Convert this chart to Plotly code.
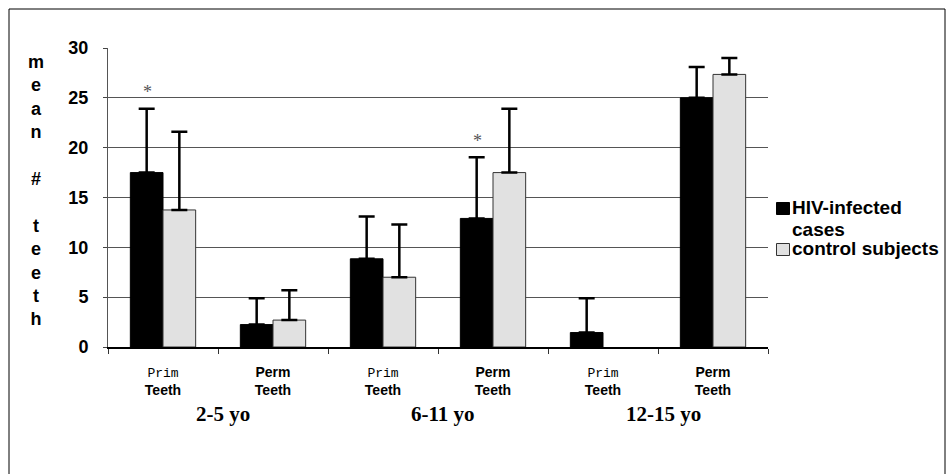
import plotly.graph_objects as go

# ---- data ----
categories = ["2-5 Prim", "2-5 Perm", "6-11 Prim", "6-11 Perm", "12-15 Prim", "12-15 Perm"]
tooth_type = ["Prim", "Perm", "Prim", "Perm", "Prim", "Perm"]
age_groups = ["2-5 yo", "6-11 yo", "12-15 yo"]
series_names = ["HIV-infected cases", "control subjects"]
hiv_mean = [17.5, 2.25, 8.85, 12.9, 1.45, 25.0]
hiv_sd = [6.4, 2.65, 4.25, 6.15, 3.45, 3.1]
ctrl_mean = [13.75, 2.7, 7.0, 17.5, None, 27.35]
ctrl_sd = [7.85, 3.0, 5.3, 6.4, None, 1.65]
significant = [True, False, False, True, False, False]
y_ticks = [0, 5, 10, 15, 20, 25, 30]

# ---- layout geometry (pixels) ----
W, H = 952, 474
L, R, T, B = 108, 184, 48, 127
PW, PH = W - L - R, H - T - B


def px(x):
    return (x - L) / PW


def py(y):
    return (H - B - y) / PH


SANS = "Liberation Sans, Arial, sans-serif"
SERIF = "Liberation Serif, Times New Roman, serif"
MONO = "Liberation Mono, Courier New, monospace"
BLACK_FILL = "#000000"
GREY_FILL = "#e1e1e1"

tick_text = []
for t in tooth_type:
    if t == "Prim":
        tick_text.append(
            f"<span style='font-family:{MONO};font-weight:normal;font-size:13px'>Prim</span><br>Teeth")
    else:
        tick_text.append("Perm<br>Teeth")

fig = go.Figure()
fig.add_trace(go.Bar(
    x=categories, y=hiv_mean, name=series_names[0], showlegend=False,
    marker=dict(color=BLACK_FILL, line=dict(color="#000000", width=1)),
    error_y=dict(type="data", array=hiv_sd, arrayminus=[0] * len(hiv_sd), symmetric=False,
                 color="#000000", thickness=2.5, width=8),
))
fig.add_trace(go.Bar(
    x=categories, y=ctrl_mean, name=series_names[1], showlegend=False,
    marker=dict(color=GREY_FILL, line=dict(color="#333333", width=1)),
    error_y=dict(type="data", array=ctrl_sd, arrayminus=[0] * len(ctrl_sd), symmetric=False,
                 color="#000000", thickness=2.5, width=8),
))

annotations = []
# stacked y-axis title
annotations.append(dict(
    text="m<br>e<br>a<br>n<br><br>#<br><br>t<br>e<br>e<br>t<br>h",
    xref="paper", yref="paper", x=px(35.5), y=py(190.5), xanchor="center", yanchor="middle",
    showarrow=False, font=dict(family=SANS, size=18, color="#000", weight="bold"),
))
# age group labels
for i, g in enumerate(age_groups):
    annotations.append(dict(
        text=g, xref="x", yref="paper", x=2 * i + 0.5, y=py(414), xanchor="center", yanchor="middle",
        xshift=5, showarrow=False, font=dict(family=SERIF, size=21, color="#000", weight="bold"),
    ))
# significance asterisks above HIV bars
for i, s in enumerate(significant):
    if s:
        annotations.append(dict(
            text="*", xref="x", yref="y", x=i, y=hiv_mean[i] + hiv_sd[i] + 0.45, xanchor="center",
            yanchor="bottom", xshift=-15.5, showarrow=False,
            font=dict(family=SERIF, size=18, color="#555555"),
        ))

# legend (drawn to match the original's compact layout)
legend_font = dict(family=SANS, size=19, color="#000", weight="bold")
hiv_words = series_names[0].split(" ")
legend_lines = [(hiv_words[0], 207.7), (" ".join(hiv_words[1:]), 229.7), (series_names[1], 248.7)]
for txt, yc in legend_lines:
    annotations.append(dict(text=txt, xref="paper", yref="paper", x=px(790), y=py(yc),
                            xanchor="left", yanchor="middle", showarrow=False, font=legend_font))

shapes = [
    dict(type="rect", xref="paper", yref="paper", x0=px(9), x1=px(945), y0=py(9), y1=py(600),
         line=dict(color="#000000", width=1), fillcolor="rgba(0,0,0,0)", layer="above"),
    dict(type="rect", xref="paper", yref="paper", x0=px(776.5), x1=px(789.5), y0=py(202.5), y1=py(214.5),
         line=dict(color="#000000", width=1), fillcolor=BLACK_FILL),
    dict(type="rect", xref="paper", yref="paper", x0=px(776.5), x1=px(789.5), y0=py(243.5), y1=py(255.5),
         line=dict(color="#333333", width=1), fillcolor=GREY_FILL),
]

fig.update_layout(
    width=W, height=H, margin=dict(l=L, r=R, t=T, b=B),
    paper_bgcolor="white", plot_bgcolor="white",
    barmode="group", bargap=0.406, bargroupgap=0,
    showlegend=False,
    annotations=annotations, shapes=shapes,
    xaxis=dict(type="category", tickmode="array", tickvals=categories, ticktext=tick_text,
               tickson="boundaries", ticks="outside", ticklen=5, tickcolor="#333", tickwidth=1,
               showline=True, linecolor="#000", linewidth=1.5, showgrid=False,
               tickfont=dict(family=SANS, size=14, color="#000", weight="bold"),
               ticklabelstandoff=11),
    yaxis=dict(range=[0, 30], tickvals=y_ticks, ticks="outside", ticklen=4, tickcolor="#444",
               showline=True, linecolor="#555", linewidth=1,
               showgrid=True, gridcolor="#555555", gridwidth=1, zeroline=False,
               tickfont=dict(family=SANS, size=18, color="#000", weight="bold"),
               ticklabelstandoff=11),
)

fig.write_html("out.html", config={"displayModeBar": False},
               post_script="document.body.style.margin='0';document.body.style.overflow='hidden';")
